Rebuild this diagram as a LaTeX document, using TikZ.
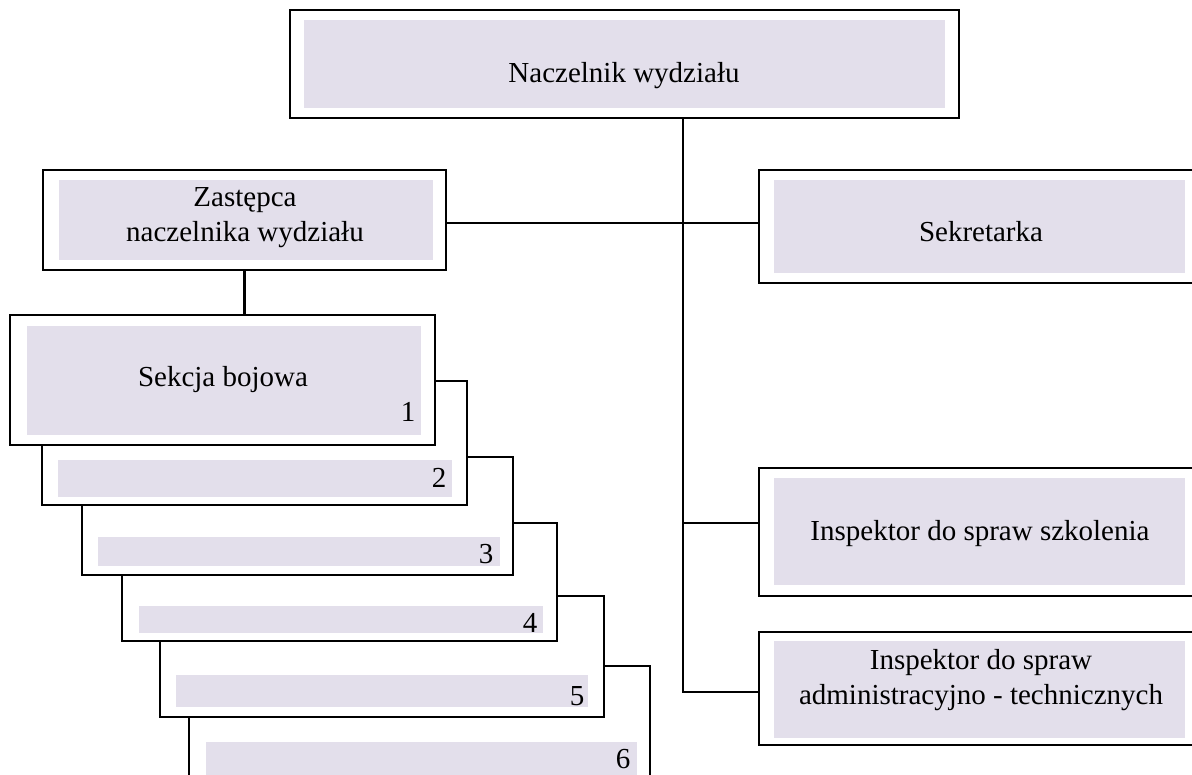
\documentclass[tikz,border=0pt]{standalone}
\usepackage{fontspec}
\setmainfont{Liberation Serif}
\definecolor{lav}{RGB}{227,223,235}
\newcommand\orgbox[6][obox]{\node[#1, minimum width={(#5-#3)*1pt}, minimum height={(#6-#4)*1pt}] (#2) at ({(#3+#5)/2},{(#4+#6)/2}) {};}
\begin{document}
\begin{tikzpicture}[x=1pt,y=-1pt,
  obox/.style={draw, line width=2.6pt, fill=white, rectangle, inner sep=0pt, outer sep=0pt},
  ibox/.style={fill=lav, rectangle, inner sep=0pt, outer sep=0pt},
  wire/.style={line width=2.2pt},
  lbl/.style={font=\fontsize{29}{35}\selectfont, inner sep=0pt, anchor=base, align=center}]
\useasboundingbox (0,0) rectangle (1192,775);
\clip (0,0) rectangle (1192,775);
% top
\orgbox{nacz}{290}{10}{959}{118}
\orgbox[ibox]{naczf}{304}{20}{945}{108}
\orgbox{zast}{43}{170}{446}{270}
\orgbox[ibox]{zastf}{59}{180}{433}{260}
\orgbox{sekr}{759}{170}{1210}{283}
\orgbox[ibox]{sekrf}{774}{180}{1185}{273}
\orgbox{szk}{759}{468}{1210}{596}
\orgbox[ibox]{szkf}{774}{478}{1185}{585}
\orgbox{adm}{759}{632}{1210}{745}
\orgbox[ibox]{admf}{774}{641}{1185}{738}
% stacked sections
\orgbox{s6}{189}{666}{650}{800}
\orgbox[ibox]{s6f}{206}{742}{637}{780}
\orgbox{s5}{160}{596}{604}{717}
\orgbox[ibox]{s5f}{176}{675}{588}{707}
\orgbox{s4}{122}{523}{557}{641}
\orgbox[ibox]{s4f}{139}{606}{543}{633}
\orgbox{s3}{82}{457}{513}{575}
\orgbox[ibox]{s3f}{98}{537}{500}{566}
\orgbox{s2}{42}{381}{467}{505}
\orgbox[ibox]{s2f}{58}{460}{452}{497}
\orgbox{s1}{10}{315}{435}{445}
\orgbox[ibox]{s1f}{27}{326}{421}{435}
% connectors
\coordinate (trunk) at (683,692);
\coordinate (hz) at (683,223);
\coordinate (hs) at (683,523);
\draw[wire] (nacz.south -| trunk) -- (trunk) -- (trunk -| adm.west);
\draw[wire] (hz -| zast.east) -- (hz -| sekr.west);
\draw[wire] (hs) -- (hs -| szk.west);
\draw[wire] (zast.south) -- (zast.south |- s1.north);
% texts
\node[lbl] (tnacz) at (624,83) {Naczelnik wydziału};
\node[lbl] (tzast) at (245,242) {Zastępca\\naczelnika wydziału};
\node[lbl] (tsekr) at (981,242) {Sekretarka};
\node[lbl] (tszk) at (980,540) {Inspektor do spraw szkolenia};
\node[lbl] (tadm) at (981,704) {Inspektor do spraw\\administracyjno - technicznych};
\node[lbl] (ts1) at (223,387) {Sekcja bojowa};
\node[lbl] (n1) at (408,422) {1};
\node[lbl] (n2) at (439,488) {2};
\node[lbl] (n3) at (486,563) {3};
\node[lbl] (n4) at (530,632) {4};
\node[lbl] (n5) at (577,705) {5};
\node[lbl] (n6) at (623,768) {6};
\end{tikzpicture}
\end{document}
